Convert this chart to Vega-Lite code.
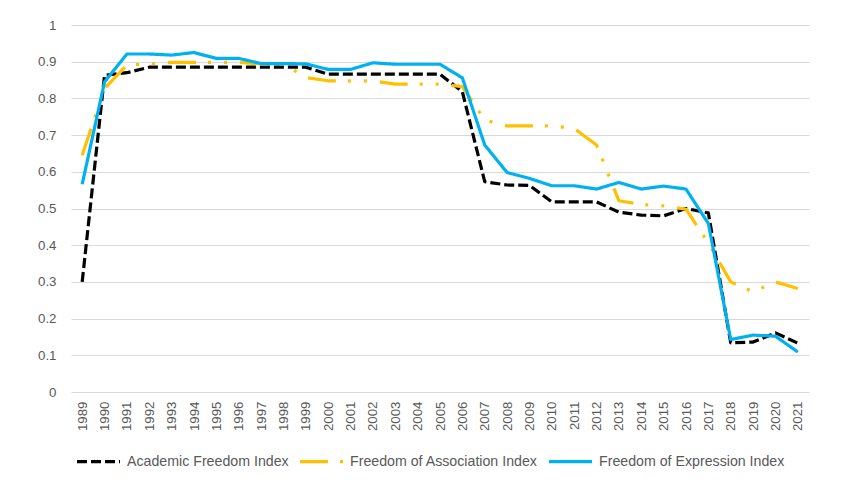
{
  "$schema": "https://vega.github.io/schema/vega-lite/v6.json",
  "width": 738,
  "height": 367,
  "autosize": "none",
  "padding": {"left": 71, "top": 25, "right": 41, "bottom": 89},
  "background": "white",
  "config": {
    "font": "Liberation Sans",
    "view": {"stroke": null},
    "axis": {"labelColor": "#595959", "labelFontSize": 13.3, "ticks": false, "gridColor": "#d9d9d9", "gridWidth": 1, "title": null}
  },
  "data": {
    "values": [
      {"year": "1989", "series": "Academic Freedom Index", "value": 0.30},
      {"year": "1990", "series": "Academic Freedom Index", "value": 0.863},
      {"year": "1991", "series": "Academic Freedom Index", "value": 0.87},
      {"year": "1992", "series": "Academic Freedom Index", "value": 0.885},
      {"year": "1993", "series": "Academic Freedom Index", "value": 0.885},
      {"year": "1994", "series": "Academic Freedom Index", "value": 0.885},
      {"year": "1995", "series": "Academic Freedom Index", "value": 0.885},
      {"year": "1996", "series": "Academic Freedom Index", "value": 0.885},
      {"year": "1997", "series": "Academic Freedom Index", "value": 0.885},
      {"year": "1998", "series": "Academic Freedom Index", "value": 0.885},
      {"year": "1999", "series": "Academic Freedom Index", "value": 0.885},
      {"year": "2000", "series": "Academic Freedom Index", "value": 0.866},
      {"year": "2001", "series": "Academic Freedom Index", "value": 0.866},
      {"year": "2002", "series": "Academic Freedom Index", "value": 0.866},
      {"year": "2003", "series": "Academic Freedom Index", "value": 0.866},
      {"year": "2004", "series": "Academic Freedom Index", "value": 0.866},
      {"year": "2005", "series": "Academic Freedom Index", "value": 0.866},
      {"year": "2006", "series": "Academic Freedom Index", "value": 0.818},
      {"year": "2007", "series": "Academic Freedom Index", "value": 0.573},
      {"year": "2008", "series": "Academic Freedom Index", "value": 0.564},
      {"year": "2009", "series": "Academic Freedom Index", "value": 0.563},
      {"year": "2010", "series": "Academic Freedom Index", "value": 0.518},
      {"year": "2011", "series": "Academic Freedom Index", "value": 0.518},
      {"year": "2012", "series": "Academic Freedom Index", "value": 0.518},
      {"year": "2013", "series": "Academic Freedom Index", "value": 0.49},
      {"year": "2014", "series": "Academic Freedom Index", "value": 0.482},
      {"year": "2015", "series": "Academic Freedom Index", "value": 0.48},
      {"year": "2016", "series": "Academic Freedom Index", "value": 0.50},
      {"year": "2017", "series": "Academic Freedom Index", "value": 0.488},
      {"year": "2018", "series": "Academic Freedom Index", "value": 0.134},
      {"year": "2019", "series": "Academic Freedom Index", "value": 0.136},
      {"year": "2020", "series": "Academic Freedom Index", "value": 0.161},
      {"year": "2021", "series": "Academic Freedom Index", "value": 0.133},
      {"year": "1989", "series": "Freedom of Association Index", "value": 0.645},
      {"year": "1990", "series": "Freedom of Association Index", "value": 0.827},
      {"year": "1991", "series": "Freedom of Association Index", "value": 0.891},
      {"year": "1992", "series": "Freedom of Association Index", "value": 0.894},
      {"year": "1993", "series": "Freedom of Association Index", "value": 0.898},
      {"year": "1994", "series": "Freedom of Association Index", "value": 0.898},
      {"year": "1995", "series": "Freedom of Association Index", "value": 0.898},
      {"year": "1996", "series": "Freedom of Association Index", "value": 0.898},
      {"year": "1997", "series": "Freedom of Association Index", "value": 0.894},
      {"year": "1998", "series": "Freedom of Association Index", "value": 0.894},
      {"year": "1999", "series": "Freedom of Association Index", "value": 0.857},
      {"year": "2000", "series": "Freedom of Association Index", "value": 0.848},
      {"year": "2001", "series": "Freedom of Association Index", "value": 0.848},
      {"year": "2002", "series": "Freedom of Association Index", "value": 0.848},
      {"year": "2003", "series": "Freedom of Association Index", "value": 0.839},
      {"year": "2004", "series": "Freedom of Association Index", "value": 0.839},
      {"year": "2005", "series": "Freedom of Association Index", "value": 0.839},
      {"year": "2006", "series": "Freedom of Association Index", "value": 0.832},
      {"year": "2007", "series": "Freedom of Association Index", "value": 0.741},
      {"year": "2008", "series": "Freedom of Association Index", "value": 0.725},
      {"year": "2009", "series": "Freedom of Association Index", "value": 0.725},
      {"year": "2010", "series": "Freedom of Association Index", "value": 0.725},
      {"year": "2011", "series": "Freedom of Association Index", "value": 0.718},
      {"year": "2012", "series": "Freedom of Association Index", "value": 0.673},
      {"year": "2013", "series": "Freedom of Association Index", "value": 0.521},
      {"year": "2014", "series": "Freedom of Association Index", "value": 0.511},
      {"year": "2015", "series": "Freedom of Association Index", "value": 0.507},
      {"year": "2016", "series": "Freedom of Association Index", "value": 0.498},
      {"year": "2017", "series": "Freedom of Association Index", "value": 0.406},
      {"year": "2018", "series": "Freedom of Association Index", "value": 0.30},
      {"year": "2019", "series": "Freedom of Association Index", "value": 0.273},
      {"year": "2020", "series": "Freedom of Association Index", "value": 0.30},
      {"year": "2021", "series": "Freedom of Association Index", "value": 0.282},
      {"year": "1989", "series": "Freedom of Expression Index", "value": 0.566},
      {"year": "1990", "series": "Freedom of Expression Index", "value": 0.845},
      {"year": "1991", "series": "Freedom of Expression Index", "value": 0.921},
      {"year": "1992", "series": "Freedom of Expression Index", "value": 0.921},
      {"year": "1993", "series": "Freedom of Expression Index", "value": 0.918},
      {"year": "1994", "series": "Freedom of Expression Index", "value": 0.925},
      {"year": "1995", "series": "Freedom of Expression Index", "value": 0.909},
      {"year": "1996", "series": "Freedom of Expression Index", "value": 0.909},
      {"year": "1997", "series": "Freedom of Expression Index", "value": 0.895},
      {"year": "1998", "series": "Freedom of Expression Index", "value": 0.895},
      {"year": "1999", "series": "Freedom of Expression Index", "value": 0.894},
      {"year": "2000", "series": "Freedom of Expression Index", "value": 0.879},
      {"year": "2001", "series": "Freedom of Expression Index", "value": 0.879},
      {"year": "2002", "series": "Freedom of Expression Index", "value": 0.897},
      {"year": "2003", "series": "Freedom of Expression Index", "value": 0.893},
      {"year": "2004", "series": "Freedom of Expression Index", "value": 0.893},
      {"year": "2005", "series": "Freedom of Expression Index", "value": 0.893},
      {"year": "2006", "series": "Freedom of Expression Index", "value": 0.856},
      {"year": "2007", "series": "Freedom of Expression Index", "value": 0.673},
      {"year": "2008", "series": "Freedom of Expression Index", "value": 0.598},
      {"year": "2009", "series": "Freedom of Expression Index", "value": 0.582},
      {"year": "2010", "series": "Freedom of Expression Index", "value": 0.562},
      {"year": "2011", "series": "Freedom of Expression Index", "value": 0.562},
      {"year": "2012", "series": "Freedom of Expression Index", "value": 0.553},
      {"year": "2013", "series": "Freedom of Expression Index", "value": 0.571},
      {"year": "2014", "series": "Freedom of Expression Index", "value": 0.553},
      {"year": "2015", "series": "Freedom of Expression Index", "value": 0.561},
      {"year": "2016", "series": "Freedom of Expression Index", "value": 0.553},
      {"year": "2017", "series": "Freedom of Expression Index", "value": 0.459},
      {"year": "2018", "series": "Freedom of Expression Index", "value": 0.143},
      {"year": "2019", "series": "Freedom of Expression Index", "value": 0.155},
      {"year": "2020", "series": "Freedom of Expression Index", "value": 0.152},
      {"year": "2021", "series": "Freedom of Expression Index", "value": 0.109}
    ]
  },
  "mark": {"type": "line", "strokeWidth": 3.2, "strokeCap": "butt", "strokeJoin": "round"},
  "encoding": {
    "x": {
      "field": "year", "type": "ordinal",
      "scale": {"type": "point", "padding": 0.5},
      "axis": {"labelAngle": -90, "labelPadding": 9, "grid": false, "domain": false}
    },
    "y": {
      "field": "value", "type": "quantitative",
      "scale": {"domain": [0, 1], "nice": false, "zero": true},
      "axis": {"values": [0, 0.1, 0.2, 0.3, 0.4, 0.5, 0.6, 0.7, 0.8, 0.9, 1], "format": "~g", "labelPadding": 15, "domain": false, "grid": true}
    },
    "color": {
      "field": "series", "type": "nominal",
      "scale": {"domain": ["Academic Freedom Index", "Freedom of Association Index", "Freedom of Expression Index"], "range": ["#000000", "#FFC000", "#00B0F0"]},
      "legend": {
        "orient": "none", "legendX": 4, "legendY": 413, "direction": "horizontal", "title": null,
        "symbolType": "stroke", "symbolSize": 1849, "symbolStrokeWidth": 3.2,
        "labelFontSize": 14.2, "labelColor": "#595959", "labelLimit": 0, "labelOffset": 5,
        "columnPadding": 4
      }
    },
    "strokeDash": {
      "field": "series", "type": "nominal",
      "scale": {"domain": ["Academic Freedom Index", "Freedom of Association Index", "Freedom of Expression Index"], "range": [[10, 4], [28, 12, 3, 13, 3, 13], [1, 0]]}
    }
  }
}
